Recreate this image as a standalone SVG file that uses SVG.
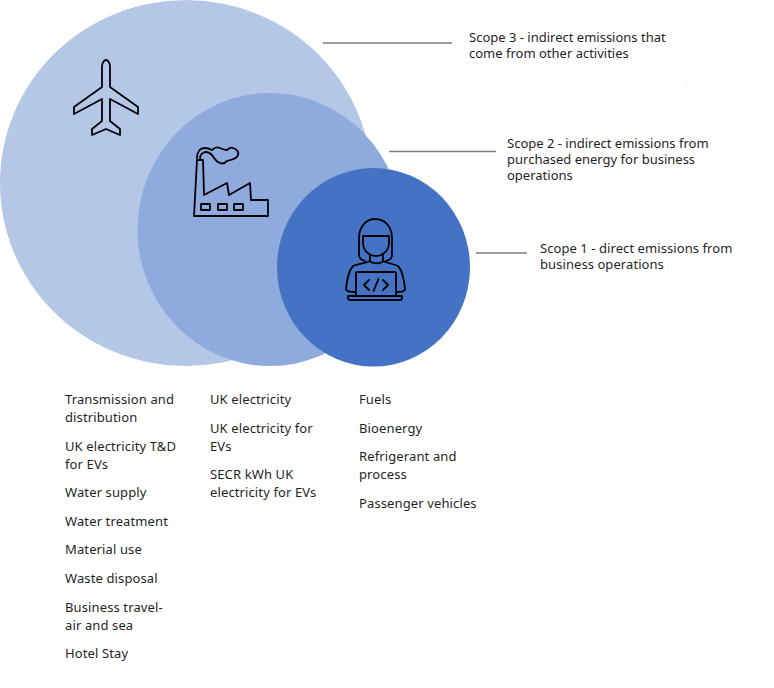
<svg xmlns="http://www.w3.org/2000/svg" width="774" height="688" viewBox="0 0 774 688">
<style>
text{font-family:"Noto Sans","Open Sans","Liberation Sans",sans-serif;font-size:13px;fill:#1f1f1f}
.l{letter-spacing:.12px}
.i{fill:none;stroke:#000;stroke-width:1.8;stroke-linejoin:round;stroke-linecap:round}
.c{fill:none;stroke:#7f7f7f;stroke-width:1.4}
.f{fill:none;stroke:#fcfcfc;stroke-width:1}
</style>
<rect width="774" height="688" fill="#fff"/>
<g id="frames">
<path class="f" d="M56.500 385V688M192.500 385V688M459 25H687V87H459ZM498 130H725V193H498Z"/>
</g>
<g id="scope3"><ellipse cx="186" cy="183" rx="186" ry="183" fill="#b4c7e7"/>
<path class="i" d="M102 87V67C102 63 104 60 106 60C108 60 110 63 110 67V87L138 107V114L110 99V121L120 129V135L106 129L92 135V129L102 121V99L74 114V107Z"/>
</g>
<g id="scope2"><ellipse cx="270" cy="229.500" rx="132.500" ry="136.500" fill="#8faadc"/>
<path class="i" d="M194 216L197 160H203L204 195L227 183L229 195L250 183L251 200H268V216Z"/>
<rect class="i" x="201" y="204" width="9" height="6"/><rect class="i" x="218" y="204" width="9" height="6"/><rect class="i" x="234" y="204" width="9" height="6"/>
<path class="i" d="M197 158C197 152 200 148 205 148C208 148 210 149 212 150C215 147 218 147 220 148C222 149 225 150 227 150C229 148 232 147 233 148C237 149 239 152 238 155C237 159 231 160 227 161C225 163 222 164 220 163C216 162 214 158 212 155C209 152 206 151 203 153C201 154 200 156 200 159"/>
</g>
<g id="scope1"><ellipse cx="373.500" cy="267.300" rx="96.500" ry="99.300" fill="#4472c4"/>
<path class="i" d="M365 261C361 260 359 258 359 255V238C359 227 366 219 375 219C386 219 392 228 392 238V255C392 258 390 260 386 261"/>
<path class="i" d="M363 236H389V243C389 250 383 256 376 256C369 256 363 250 363 243ZM370 255V261C366 263 358 264 353 266C349 270 347 279 346 289C346 291 350 292 355 292M383 255V261C387 263 394 264 398 266C402 270 404 279 405 289C405 291 401 292 397 292M370 261C372 264 381 264 383 261"/>
<path class="i" d="M356 296V273C356 272 357 272 358 272H394C395 272 396 272 396 273V296M348 296H402V298C402 299 401 300 400 300H350C349 300 348 299 348 298Z"/>
<path class="i" d="M369 280L364 285L369 290M383 280L388 285L383 290M378.500 279L373.500 291"/>
</g>
<g id="connectors">
<path class="c" d="M323 43H452M389 151.500H496M476 253H527"/>
</g>
<g id="labels">
<text x="469" y="42">Scope 3 - indirect emissions that<tspan x="469" y="58">come from other activities</tspan></text>
<text x="507" y="148">Scope 2 - indirect emissions from<tspan x="507" y="164">purchased energy for business</tspan><tspan x="507" y="180">operations</tspan></text>
<text x="540" y="253" style="letter-spacing:.07px">Scope 1 - direct emissions from<tspan x="540" y="269">business operations</tspan></text>
</g>
<g id="list-scope3" class="l">
<text x="65" y="404">Transmission and<tspan x="65" y="422">distribution</tspan></text>
<text x="65" y="451">UK electricity T&amp;D<tspan x="65" y="469">for EVs</tspan></text>
<text x="65" y="497">Water supply</text>
<text x="65" y="526">Water treatment</text>
<text x="65" y="554">Material use</text>
<text x="65" y="583">Waste disposal</text>
<text x="65" y="612">Business travel-<tspan x="65" y="630">air and sea</tspan></text>
<text x="65" y="658">Hotel Stay</text>
</g>
<g id="list-scope2" class="l">
<text x="210" y="404">UK electricity</text>
<text x="210" y="433">UK electricity for<tspan x="210" y="451">EVs</tspan></text>
<text x="210" y="479">SECR kWh UK<tspan x="210" y="497">electricity for EVs</tspan></text>
</g>
<g id="list-scope1" class="l">
<text x="359" y="404">Fuels</text>
<text x="359" y="433">Bioenergy</text>
<text x="359" y="461">Refrigerant and<tspan x="359" y="479">process</tspan></text>
<text x="359" y="508">Passenger vehicles</text>
</g>
</svg>
